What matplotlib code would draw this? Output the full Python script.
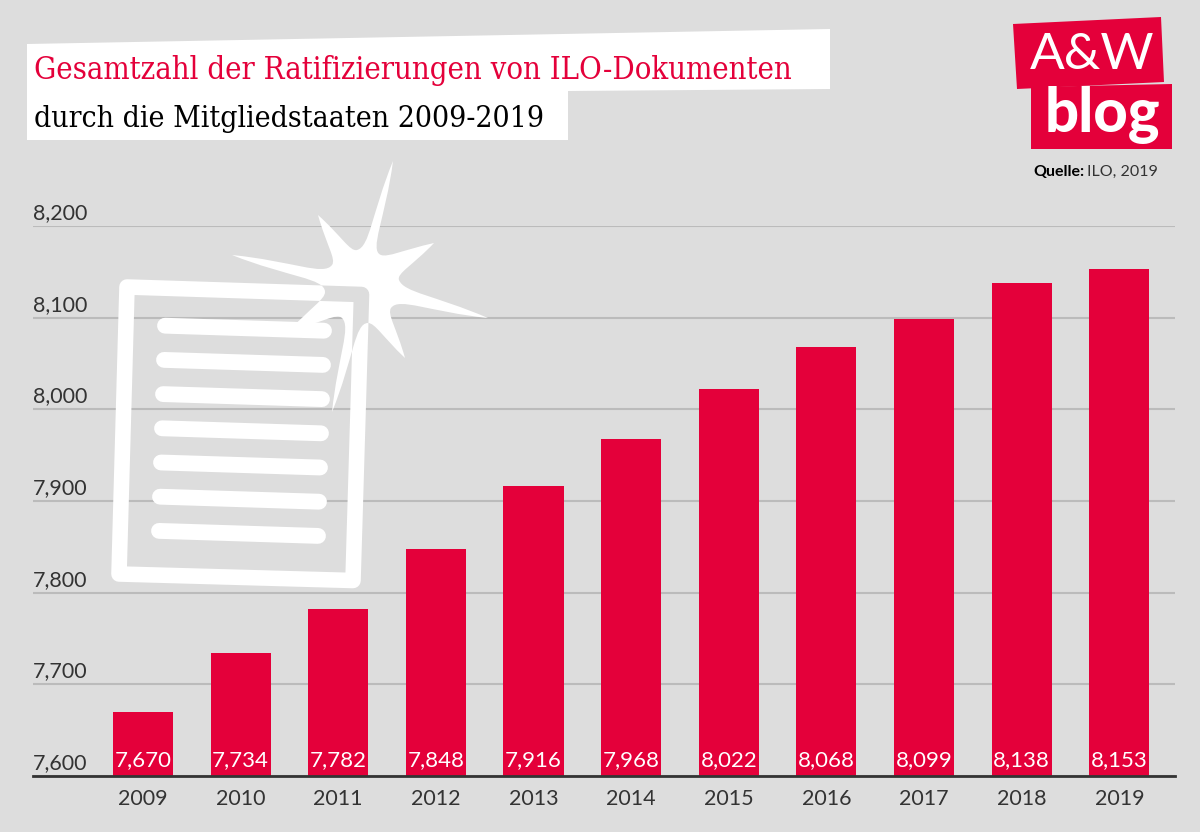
import matplotlib
matplotlib.use("Agg")
import matplotlib.pyplot as plt
from matplotlib.patches import Polygon, PathPatch
from matplotlib.path import Path
from matplotlib.transforms import ScaledTranslation

RED = "#E4003A"
BG = "#DDDDDD"
GRID = "#BBBBBB"
DARK = "#333333"
LABEL_FONT = "Lato"

years = ["2009", "2010", "2011", "2012", "2013", "2014", "2015", "2016", "2017", "2018", "2019"]
ratifications = [7670, 7734, 7782, 7848, 7916, 7968, 8022, 8068, 8099, 8138, 8153]
y_ticks = [7600, 7700, 7800, 7900, 8000, 8100, 8200]

W, H = 1200, 832
fig = plt.figure(figsize=(W / 100, H / 100), dpi=100, facecolor=BG)

# bar chart, axes box set so that the grid runs 33-1175 px and 7600-8200 sits at 776-226 px
ax = fig.add_axes([33 / W, 1 - 776 / H, (1175 - 33) / W, (776 - 226) / H], facecolor="none")
xs = list(range(len(years)))
ax.bar(xs, ratifications, width=0.615, color=RED, zorder=3)
ax.set_xlim(-1.126, 10.57)
ax.set_ylim(7600, 8200)
ax.set_xticks(xs, years, fontsize=15.5, color=DARK, family=LABEL_FONT)
ax.set_yticks(y_ticks, [f"{v:,}" for v in y_ticks], fontsize=15.5, color=DARK, family=LABEL_FONT)
ax.tick_params(axis="y", length=0, pad=0)
ax.tick_params(axis="x", length=0, pad=9.5)
# labels sit left aligned on top of their grid line
lift = ScaledTranslation(0, 3 / 100, fig.dpi_scale_trans)
for lab in ax.get_yticklabels():
    lab.set_ha("left")
    lab.set_va("bottom")
    lab.set_transform(lab.get_transform() + lift)
ax.grid(axis="y", color=GRID, linewidth=1.5, zorder=1)
for side in ["top", "left", "right"]:
    ax.spines[side].set_visible(False)
ax.spines["bottom"].set_color(DARK)
ax.spines["bottom"].set_linewidth(2)
ax.spines["bottom"].set_zorder(5)

for x, v in zip(xs, ratifications):
    ax.annotate(f"{v:,}", (x, 7600), xytext=(0, 4), textcoords="offset points",
                ha="center", va="bottom", color="white", fontsize=16,
                family=LABEL_FONT, zorder=4)

# overlay in pixel coordinates for the title, logo and the document icon
ov = fig.add_axes([0, 0, 1, 1], facecolor="none")
ov.set_xlim(0, W)
ov.set_ylim(H, 0)
ov.axis("off")

# title
ov.add_patch(Polygon([(27, 44), (830, 29), (830, 89), (568, 91), (568, 140), (27, 140)],
                     color="white", lw=0))
ov.text(34, 79, "Gesamtzahl der Ratifizierungen von ILO-Dokumenten", color=RED,
        fontsize=22.2, family="DejaVu Serif", stretch="condensed", va="baseline", ha="left")
ov.text(34, 127, "durch die Mitgliedstaaten 2009-2019", color="black",
        fontsize=21.6, family="DejaVu Serif", stretch="condensed", va="baseline", ha="left")

# logo
ov.add_patch(Polygon([(1013, 24), (1161, 17), (1164, 82), (1017, 89)], color=RED, lw=0))
ov.add_patch(Polygon([(1031, 87), (1172, 84), (1172, 149), (1031, 149)], color=RED, lw=0))
ov.text(1092, 55, "A&W", color="white", fontsize=37, family="Lato",
        ha="center", va="center")
ov.text(1102, 115, "blog", color="white", fontsize=43, family="Lato", weight="black",
        ha="center", va="center")

# source
ov.text(1033, 172, "Quelle:", color="black", fontsize=11.5, family="Lato",
        weight="bold", ha="left", va="center")
ov.text(1158, 172, "ILO, 2019", color=DARK, fontsize=11.5, family="Lato",
        ha="right", va="center")

# star behind the document, spikes as tips with a smooth valley between each pair
center = (368, 292)
tips = [(393, 161), (434, 243), (488, 318), (405, 358), (332, 412), (289, 331), (232, 255), (318, 215)]
valleys = [(381, 255), (399, 280), (391, 308), (368, 323), (342, 318), (325, 292), (332, 265), (357, 250)]


def handle(v, tip):
    # bezier handle at a valley, square to the line from the star's centre
    rx, ry = v[0] - center[0], v[1] - center[1]
    n = (rx * rx + ry * ry) ** 0.5
    tx, ty = -ry / n, rx / n
    dx, dy = tip[0] - v[0], tip[1] - v[1]
    if tx * dx + ty * dy < 0:
        tx, ty = -tx, -ty
    length = 0.14 * (dx * dx + dy * dy) ** 0.5
    return (v[0] + tx * length, v[1] + ty * length)


def along(p, q, f):
    return (p[0] + (q[0] - p[0]) * f, p[1] + (q[1] - p[1]) * f)


verts = [tips[0]]
codes = [Path.MOVETO]
for i, v in enumerate(valleys):
    t0 = tips[i]
    t1 = tips[(i + 1) % len(tips)]
    verts += [along(t0, v, 0.6), handle(v, t0), v, handle(v, t1), along(t1, v, 0.6), t1]
    codes += [Path.CURVE4] * 6
star = PathPatch(Path(verts, codes), facecolor="white", lw=0, zorder=2)
ov.add_patch(star)

# document frame and text lines
frame_pts = [(127, 287), (361.5, 294.5), (353, 580.5), (119, 574)]
frame = Polygon(frame_pts, closed=True, fill=False, edgecolor="white", lw=11.2,
                joinstyle="round", zorder=3)
ov.add_patch(frame)
# where the frame crosses the star the overlap turns grey
knock = Polygon(frame_pts, closed=True, fill=False, edgecolor=BG, lw=11.2,
                joinstyle="round", zorder=4)
ov.add_patch(knock)
knock.set_clip_path(star)

for i in range(7):
    ov.plot([165 - i, 324 - i], [325.7 + 34.2 * i, 330.7 + 34.2 * i], color="white",
            lw=11.4, solid_capstyle="round", zorder=5)

fig.savefig("out.png", dpi=100, facecolor=BG)
